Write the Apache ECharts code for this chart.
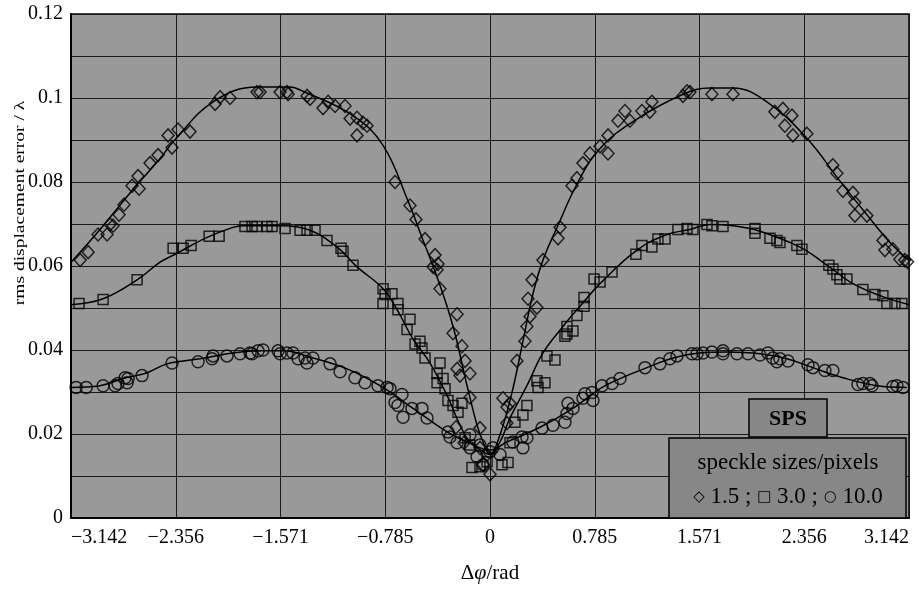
<!DOCTYPE html>
<html>
<head>
<meta charset="utf-8">
<title>SPS rms displacement error</title>
<script src="https://cdn.jsdelivr.net/npm/echarts@6/dist/echarts.min.js"></script>
<style>
  html, body { margin: 0; padding: 0; background: #fff; }
  #chart { width: 919px; height: 589px; }
</style>
</head>
<body>
<div id="chart"></div>
<script>
// tick labels
var xTickLabels = ['\u22123.142', '\u22122.356', '\u22121.571', '\u22120.785', '0', '0.785', '1.571', '2.356', '3.142'];
var yTickLabels = ['0', '0.02', '0.04', '0.06', '0.08', '0.1', '0.12'];

// measured points, [phase step / rad, rms error / lambda]
var speckle15 = [
  [-3.073,0.0614],[-3.013,0.0633],[-2.939,0.0675],[-2.871,0.0675],[-2.849,0.0699],[-2.826,0.0696],
  [-2.781,0.0722],[-2.744,0.0746],[-2.684,0.0791],[-2.639,0.0814],[-2.631,0.0784],[-2.549,0.0845],
  [-2.489,0.0864],[-2.414,0.0911],[-2.384,0.0882],[-2.339,0.0925],[-2.249,0.0920],[-2.061,0.0986],
  [-2.024,0.1002],[-1.949,0.1000],[-1.747,0.1014],[-1.724,0.1014],[-1.574,0.1014],[-1.522,0.1014],
  [-1.514,0.1009],[-1.372,0.1005],[-1.349,0.0998],[-1.252,0.0976],[-1.214,0.0991],[-1.162,0.0981],
  [-1.087,0.0981],[-1.049,0.0951],[-0.997,0.0953],[-0.997,0.0911],[-0.952,0.0941],[-0.922,0.0934],
  [-0.712,0.0800],[-0.600,0.0744],[-0.555,0.0711],[-0.487,0.0664],[-0.412,0.0626],[-0.427,0.0598],
  [-0.390,0.0605],[-0.397,0.0591],[-0.375,0.0546],[-0.247,0.0485],[-0.277,0.0440],[-0.210,0.0409],
  [-0.187,0.0374],[-0.247,0.0355],[-0.225,0.0339],[-0.150,0.0344],[-0.150,0.0287],[-0.255,0.0216],
  [-0.195,0.0179],[-0.075,0.0214],[-0.075,0.0167],[-0.022,0.0151],[-0.052,0.0127],[0.000,0.0104],
  [0.097,0.0285],[0.127,0.0264],[0.150,0.0273],[0.127,0.0226],[0.202,0.0374],[0.262,0.0421],
  [0.277,0.0456],[0.300,0.0480],[0.352,0.0501],[0.285,0.0522],[0.315,0.0567],[0.397,0.0614],
  [0.510,0.0666],[0.525,0.0692],[0.615,0.0791],[0.652,0.0809],[0.697,0.0845],[0.750,0.0868],
  [0.825,0.0885],[0.885,0.0911],[0.885,0.0868],[0.960,0.0946],[1.012,0.0969],[1.049,0.0946],
  [1.139,0.0969],[1.199,0.0967],[1.214,0.0991],[1.447,0.1005],[1.477,0.1016],[1.499,0.1014],
  [1.664,0.1009],[1.822,0.1009],[2.136,0.0967],[2.196,0.0974],[2.264,0.0958],[2.211,0.0934],
  [2.271,0.0911],[2.376,0.0915],[2.571,0.0840],[2.601,0.0821],[2.646,0.0779],[2.721,0.0774],
  [2.736,0.0751],[2.736,0.0720],[2.826,0.0720],[2.946,0.0661],[2.961,0.0638],[3.021,0.0640],
  [3.073,0.0616],[3.110,0.0614],[3.130,0.0610]
];
var speckle30 = [
  [-3.081,0.0511],[-2.901,0.0520],[-2.646,0.0567],[-2.376,0.0642],[-2.301,0.0642],[-2.241,0.0649],
  [-2.106,0.0671],[-2.031,0.0671],[-1.837,0.0694],[-1.784,0.0694],[-1.747,0.0694],[-1.672,0.0694],
  [-1.634,0.0694],[-1.537,0.0689],[-1.424,0.0685],[-1.372,0.0685],[-1.312,0.0685],[-1.222,0.0661],
  [-1.117,0.0642],[-1.102,0.0635],[-1.027,0.0602],[-0.802,0.0546],[-0.787,0.0532],[-0.735,0.0534],
  [-0.802,0.0511],[-0.690,0.0511],[-0.690,0.0496],[-0.600,0.0473],[-0.622,0.0449],[-0.562,0.0414],
  [-0.525,0.0421],[-0.510,0.0405],[-0.487,0.0381],[-0.375,0.0369],[-0.397,0.0344],[-0.397,0.0322],
  [-0.352,0.0332],[-0.337,0.0308],[-0.315,0.0280],[-0.277,0.0268],[-0.210,0.0273],[-0.240,0.0252],
  [-0.187,0.0191],[-0.150,0.0174],[-0.135,0.0120],[-0.075,0.0122],[-0.022,0.0134],
  [0.090,0.0127],[0.135,0.0132],[0.150,0.0179],[0.187,0.0228],[0.247,0.0245],[0.277,0.0268],
  [0.352,0.0327],[0.412,0.0322],[0.360,0.0311],[0.427,0.0386],[0.487,0.0376],[0.562,0.0433],
  [0.577,0.0456],[0.622,0.0445],[0.577,0.0438],[0.652,0.0482],[0.705,0.0504],[0.705,0.0525],
  [0.780,0.0569],[0.825,0.0562],[0.915,0.0586],[1.094,0.0628],[1.139,0.0649],[1.214,0.0645],
  [1.259,0.0664],[1.312,0.0664],[1.409,0.0687],[1.477,0.0689],[1.522,0.0687],[1.627,0.0699],
  [1.664,0.0696],[1.747,0.0694],[1.987,0.0689],[1.987,0.0678],[2.099,0.0666],[2.151,0.0661],
  [2.174,0.0656],[2.301,0.0649],[2.339,0.0640],[2.541,0.0602],[2.571,0.0593],[2.601,0.0579],
  [2.624,0.0569],[2.676,0.0569],[2.796,0.0544],[2.886,0.0532],[2.946,0.0529],[2.976,0.0511],
  [3.036,0.0511],[3.088,0.0511]
];
var speckle100 = [
  [-3.103,0.0311],[-3.028,0.0311],[-2.901,0.0315],[-2.811,0.0315],[-2.789,0.0320],[-2.736,0.0334],
  [-2.714,0.0332],[-2.721,0.0322],[-2.609,0.0339],[-2.384,0.0369],[-2.189,0.0372],[-2.084,0.0379],
  [-2.076,0.0386],[-1.972,0.0386],[-1.874,0.0391],[-1.799,0.0393],[-1.784,0.0391],[-1.739,0.0398],
  [-1.702,0.0400],[-1.589,0.0398],[-1.574,0.0391],[-1.522,0.0393],[-1.477,0.0393],[-1.439,0.0379],
  [-1.387,0.0381],[-1.372,0.0369],[-1.327,0.0381],[-1.199,0.0367],[-1.124,0.0348],[-1.012,0.0334],
  [-0.937,0.0322],[-0.840,0.0315],[-0.772,0.0311],[-0.750,0.0308],[-0.660,0.0294],[-0.712,0.0275],
  [-0.690,0.0268],[-0.585,0.0261],[-0.510,0.0261],[-0.652,0.0240],[-0.472,0.0238],[-0.315,0.0205],
  [-0.300,0.0193],[-0.247,0.0179],[-0.150,0.0198],[-0.150,0.0167],[-0.075,0.0174],[-0.097,0.0146],
  [-0.052,0.0127],[0.000,0.0158],[0.022,0.0167],[0.075,0.0151],[0.172,0.0181],[0.240,0.0193],
  [0.247,0.0167],[0.277,0.0191],[0.390,0.0214],[0.472,0.0221],[0.562,0.0228],[0.577,0.0249],
  [0.622,0.0261],[0.585,0.0273],[0.697,0.0285],[0.712,0.0296],[0.765,0.0299],[0.772,0.0280],
  [0.840,0.0315],[0.915,0.0320],[0.975,0.0332],[1.162,0.0358],[1.274,0.0367],[1.349,0.0379],
  [1.402,0.0386],[1.514,0.0391],[1.552,0.0391],[1.597,0.0393],[1.664,0.0395],[1.747,0.0398],
  [1.747,0.0391],[1.852,0.0391],[1.934,0.0391],[2.024,0.0388],[2.084,0.0393],[2.121,0.0381],
  [2.174,0.0379],[2.151,0.0372],[2.234,0.0374],[2.384,0.0365],[2.421,0.0358],[2.511,0.0351],
  [2.571,0.0351],[2.759,0.0318],[2.796,0.0320],[2.849,0.0320],[2.864,0.0315],[3.021,0.0313],
  [3.051,0.0315],[3.096,0.0311]
];

// fitted curves
var fit15 = [
  [-3.141,0.0609],[-2.924,0.0687],[-2.699,0.0774],[-2.474,0.0856],[-2.361,0.0901],[-2.076,0.0991],
  [-1.747,0.1026],[-1.499,0.1026],[-1.402,0.1016],[-1.027,0.0958],[-0.802,0.0887],[-0.615,0.0755],
  [-0.510,0.0668],[-0.397,0.0574],[-0.277,0.0456],[-0.172,0.0315],[-0.097,0.0221],[-0.052,0.0181],
  [0.000,0.0151],[0.075,0.0198],[0.165,0.0299],[0.247,0.0421],[0.322,0.0534],[0.397,0.0614],
  [0.503,0.0692],[0.660,0.0800],[0.825,0.0880],[1.072,0.0944],[1.447,0.1009],[1.649,0.1024],
  [1.822,0.1024],[2.076,0.0991],[2.376,0.0904],[2.624,0.0802],[2.826,0.0722],[2.999,0.0656],
  [3.141,0.0614]
];
var fit30 = [
  [-3.141,0.0508],[-2.901,0.0522],[-2.646,0.0567],[-2.474,0.0609],[-2.361,0.0628],[-2.121,0.0668],
  [-1.927,0.0692],[-1.852,0.0696],[-1.552,0.0696],[-1.349,0.0685],[-1.147,0.0645],[-0.997,0.0598],
  [-0.802,0.0546],[-0.697,0.0496],[-0.577,0.0426],[-0.450,0.0369],[-0.322,0.0292],[-0.225,0.0221],
  [-0.150,0.0181],[-0.052,0.0158],[0.000,0.0151],[0.075,0.0181],[0.150,0.0238],[0.277,0.0315],
  [0.397,0.0393],[0.547,0.0456],[0.675,0.0504],[0.825,0.0558],[1.102,0.0638],[1.327,0.0675],
  [1.499,0.0687],[1.649,0.0699],[1.822,0.0696],[2.001,0.0685],[2.324,0.0645],[2.526,0.0602],
  [2.721,0.0558],[2.946,0.0527],[3.141,0.0508]
];
var fit100 = [
  [-3.141,0.0311],[-2.924,0.0315],[-2.751,0.0332],[-2.571,0.0346],[-2.421,0.0367],[-2.174,0.0379],
  [-1.927,0.0393],[-1.702,0.0398],[-1.552,0.0398],[-1.327,0.0381],[-1.072,0.0355],[-0.825,0.0315],
  [-0.577,0.0261],[-0.322,0.0205],[-0.172,0.0181],[0.000,0.0162],[0.127,0.0181],[0.375,0.0216],
  [0.622,0.0261],[0.825,0.0308],[0.975,0.0332],[1.177,0.0358],[1.372,0.0381],[1.574,0.0393],
  [1.777,0.0395],[2.024,0.0391],[2.226,0.0379],[2.421,0.0358],[2.646,0.0334],[2.901,0.0315],
  [3.126,0.0311]
];

var FONT = '"Liberation Serif", "Times New Roman", serif';
var QUARTER = Math.PI / 4;

function markStyle() {
  return { color: 'transparent', borderColor: '#000', borderWidth: 1.5 };
}
function fitSeries(data) {
  return {
    type: 'line', data: data, smooth: 0.4, showSymbol: false, silent: true, z: 2,
    lineStyle: { color: '#000', width: 1.5 }
  };
}

var chart = echarts.init(document.getElementById('chart'), null, { renderer: 'canvas' });
chart.setOption({
  animation: false,
  grid: {
    left: 71, right: 10, top: 14, bottom: 65,
    show: true, backgroundColor: '#999999', borderColor: '#000', borderWidth: 1.5
  },
  xAxis: {
    type: 'value', min: -Math.PI, max: Math.PI, interval: QUARTER,
    name: '{n|\u0394}{i|\u03c6}{n|/rad}', nameLocation: 'middle', nameGap: 44,
    nameTextStyle: {
      rich: {
        n: { fontFamily: FONT, fontSize: 21, color: '#000' },
        i: { fontFamily: FONT, fontSize: 22, fontStyle: 'italic', color: '#000' }
      }
    },
    axisLine: { show: true, onZero: false, lineStyle: { color: '#000', width: 2 } },
    axisTick: { show: false },
    splitLine: { show: true, lineStyle: { color: '#1a1a1a', width: 1 } },
    axisLabel: {
      fontFamily: FONT, fontSize: 20, color: '#000', margin: 10,
      alignMinLabel: 'left', alignMaxLabel: 'right',
      formatter: function (v) {
        var k = Math.round(v / QUARTER) + 4;
        return xTickLabels[k] || '';
      }
    }
  },
  yAxis: {
    type: 'value', min: 0, max: 0.12, interval: 0.01,
    axisLine: { show: true, onZero: false, lineStyle: { color: '#000', width: 2 } },
    axisTick: { show: false },
    splitLine: { show: true, lineStyle: { color: '#1a1a1a', width: 1 } },
    axisLabel: {
      fontFamily: FONT, fontSize: 20, color: '#000', margin: 8,
      formatter: function (v) {
        var k = Math.round(v * 100);
        return k % 2 === 0 ? yTickLabels[k / 2] : '';
      }
    }
  },
  series: [
    fitSeries(fit15),
    fitSeries(fit30),
    fitSeries(fit100),
    { type: 'scatter', data: speckle15, symbol: 'diamond', symbolSize: [12, 13], itemStyle: markStyle(), z: 3 },
    { type: 'scatter', data: speckle30, symbol: 'rect', symbolSize: 10, itemStyle: markStyle(), z: 3 },
    { type: 'scatter', data: speckle100, symbol: 'circle', symbolSize: 12, itemStyle: markStyle(), z: 3 }
  ],
  graphic: [
    {
      type: 'text', x: 20, y: 203, rotation: Math.PI / 2, scaleX: 1.3, z: 10,
      style: {
        text: 'rms displacement error / \u03bb', font: '15px ' + FONT, fill: '#000',
        textAlign: 'center', textVerticalAlign: 'middle'
      }
    },
    {
      type: 'rect', z: 10, shape: { x: 749, y: 399, width: 78, height: 38 },
      style: { fill: '#878787', stroke: '#000', lineWidth: 1.5 }
    },
    {
      type: 'text', x: 788, y: 419, z: 11,
      style: {
        text: 'SPS', font: 'bold 22px ' + FONT, fill: '#000',
        textAlign: 'center', textVerticalAlign: 'middle'
      }
    },
    {
      type: 'rect', z: 10, shape: { x: 669, y: 438, width: 237, height: 80 },
      style: { fill: '#878787', stroke: '#000', lineWidth: 1.5 }
    },
    {
      type: 'text', x: 788, y: 463, z: 11,
      style: {
        text: 'speckle sizes/pixels', font: '23px ' + FONT, fill: '#000',
        textAlign: 'center', textVerticalAlign: 'middle'
      }
    },
    {
      type: 'text', x: 788, y: 497, z: 11,
      style: {
        text: '{s|\u25c7} 1.5 ; {s|\u25a1} 3.0 ; {s|\u25cb} 10.0',
        font: '23px ' + FONT, fill: '#000',
        textAlign: 'center', textVerticalAlign: 'middle',
        rich: {
          s: { fontFamily: '"DejaVu Sans", sans-serif', fontSize: 15, fill: '#000' }
        }
      }
    }
  ]
});
</script>
</body>
</html>
